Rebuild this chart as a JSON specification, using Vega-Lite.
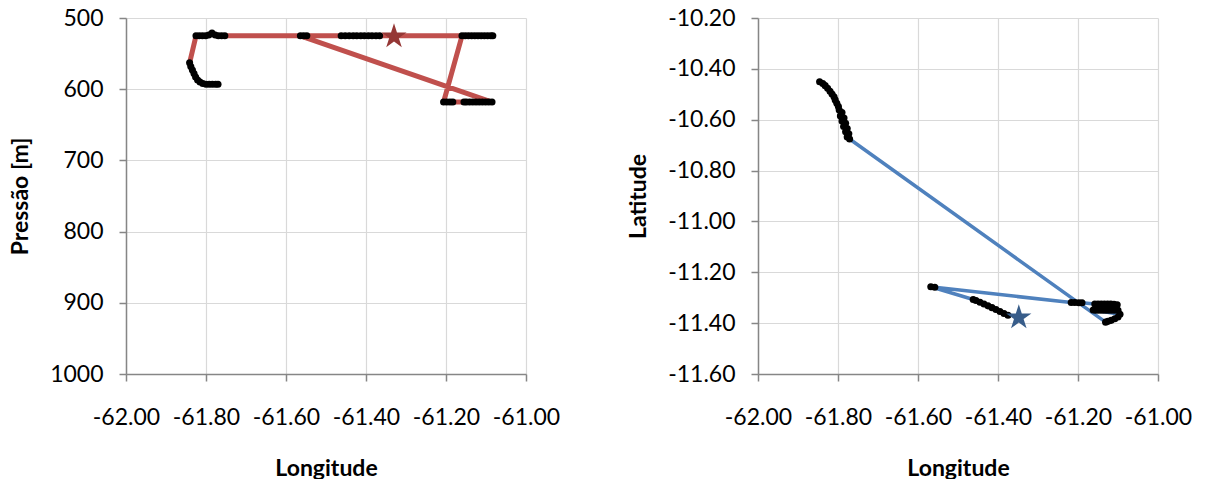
{
  "$schema": "https://vega.github.io/schema/vega-lite/v6.json",
  "padding": {"left": 9, "top": 7, "right": 5, "bottom": 2},
  "background": "white",
  "config": {
    "view": {"stroke": null},
    "font": "Lato",
    "axis": {"labelFont": "Lato", "labelFontSize": 23, "labelColor": "#000000", "labelOverlap": false, "labelFlush": false, "labelExpr": "replace(datum.label, '−', '-')", "titleFont": "Lato", "titleFontSize": 23, "titleFontWeight": "bold", "titleColor": "#000000", "domainColor": "#868686", "domainWidth": 1.5, "tickColor": "#868686", "tickSize": 7, "tickWidth": 1.5, "gridColor": "#D9D9D9", "gridWidth": 1.2},
    "axisX": {"labelPadding": 25, "titlePadding": 28},
    "axisY": {"labelPadding": 16, "titlePadding": 17},
    "concat": {"spacing": 67}
  },
  "datasets": {
    "pl": [
      {"o": 1, "lon": -61.366, "p": 525}, {"o": 2, "lon": -61.375, "p": 525}, {"o": 3, "lon": -61.385, "p": 525}, {"o": 4, "lon": -61.394, "p": 525}, {"o": 5, "lon": -61.404, "p": 525}, {"o": 6, "lon": -61.413, "p": 525}, {"o": 7, "lon": -61.423, "p": 525}, {"o": 8, "lon": -61.432, "p": 525}, {"o": 9, "lon": -61.442, "p": 525}, {"o": 10, "lon": -61.452, "p": 525}, {"o": 11, "lon": -61.462, "p": 525},
      {"o": 12, "lon": -61.548, "p": 525}, {"o": 13, "lon": -61.556, "p": 525}, {"o": 14, "lon": -61.564, "p": 525},
      {"o": 15, "lon": -61.085, "p": 618}, {"o": 16, "lon": -61.093, "p": 618}, {"o": 17, "lon": -61.101, "p": 618}, {"o": 18, "lon": -61.109, "p": 618}, {"o": 19, "lon": -61.117, "p": 618}, {"o": 20, "lon": -61.125, "p": 618}, {"o": 21, "lon": -61.133, "p": 618}, {"o": 22, "lon": -61.141, "p": 618}, {"o": 23, "lon": -61.149, "p": 618}, {"o": 24, "lon": -61.155, "p": 618},
      {"o": 25, "lon": -61.183, "p": 618}, {"o": 26, "lon": -61.19, "p": 618}, {"o": 27, "lon": -61.198, "p": 618}, {"o": 28, "lon": -61.206, "p": 618},
      {"o": 30, "lon": -61.16, "p": 525}, {"o": 31, "lon": -61.152, "p": 525}, {"o": 32, "lon": -61.144, "p": 525}, {"o": 33, "lon": -61.136, "p": 525}, {"o": 34, "lon": -61.128, "p": 525}, {"o": 35, "lon": -61.12, "p": 525}, {"o": 36, "lon": -61.112, "p": 525}, {"o": 37, "lon": -61.104, "p": 525}, {"o": 38, "lon": -61.096, "p": 525}, {"o": 39, "lon": -61.088, "p": 525}, {"o": 40, "lon": -61.083, "p": 525},
      {"o": 41, "lon": -61.753, "p": 525}, {"o": 42, "lon": -61.761, "p": 525}, {"o": 43, "lon": -61.769, "p": 525}, {"o": 44, "lon": -61.777, "p": 524}, {"o": 45, "lon": -61.785, "p": 521}, {"o": 46, "lon": -61.793, "p": 524}, {"o": 47, "lon": -61.801, "p": 525}, {"o": 48, "lon": -61.809, "p": 525}, {"o": 49, "lon": -61.817, "p": 525}, {"o": 50, "lon": -61.825, "p": 525},
      {"o": 51, "lon": -61.841, "p": 563}, {"o": 52, "lon": -61.838, "p": 568}, {"o": 53, "lon": -61.834, "p": 573}, {"o": 54, "lon": -61.83, "p": 578}, {"o": 55, "lon": -61.826, "p": 583}, {"o": 56, "lon": -61.821, "p": 587}, {"o": 57, "lon": -61.815, "p": 590}, {"o": 58, "lon": -61.808, "p": 592}, {"o": 59, "lon": -61.8, "p": 593}, {"o": 60, "lon": -61.792, "p": 593}, {"o": 61, "lon": -61.784, "p": 593}, {"o": 62, "lon": -61.776, "p": 593}, {"o": 63, "lon": -61.77, "p": 593}
    ],
    "pr": [
      {"o": 1, "lon": -61.375, "lat": -11.369}, {"o": 2, "lon": -61.385, "lat": -11.362}, {"o": 3, "lon": -61.395, "lat": -11.354}, {"o": 4, "lon": -61.405, "lat": -11.346}, {"o": 5, "lon": -61.415, "lat": -11.339}, {"o": 6, "lon": -61.425, "lat": -11.332}, {"o": 7, "lon": -61.435, "lat": -11.325}, {"o": 8, "lon": -61.445, "lat": -11.318}, {"o": 9, "lon": -61.455, "lat": -11.311}, {"o": 10, "lon": -61.462, "lat": -11.307},
      {"o": 11, "lon": -61.568, "lat": -11.257}, {"o": 12, "lon": -61.558, "lat": -11.259},
      {"o": 13, "lon": -61.217, "lat": -11.319}, {"o": 14, "lon": -61.208, "lat": -11.319}, {"o": 15, "lon": -61.198, "lat": -11.32}, {"o": 16, "lon": -61.19, "lat": -11.32},
      {"o": 17, "lon": -61.158, "lat": -11.325}, {"o": 18, "lon": -61.15, "lat": -11.325}, {"o": 19, "lon": -61.142, "lat": -11.325}, {"o": 20, "lon": -61.134, "lat": -11.325}, {"o": 21, "lon": -61.126, "lat": -11.325}, {"o": 22, "lon": -61.118, "lat": -11.325}, {"o": 23, "lon": -61.11, "lat": -11.326}, {"o": 24, "lon": -61.102, "lat": -11.328},
      {"o": 25, "lon": -61.1, "lat": -11.349}, {"o": 26, "lon": -61.108, "lat": -11.349}, {"o": 27, "lon": -61.116, "lat": -11.349}, {"o": 28, "lon": -61.124, "lat": -11.349}, {"o": 29, "lon": -61.132, "lat": -11.349}, {"o": 30, "lon": -61.14, "lat": -11.349}, {"o": 31, "lon": -61.148, "lat": -11.349}, {"o": 32, "lon": -61.156, "lat": -11.349}, {"o": 33, "lon": -61.162, "lat": -11.348},
      {"o": 34, "lon": -61.095, "lat": -11.365}, {"o": 35, "lon": -61.1, "lat": -11.376}, {"o": 36, "lon": -61.108, "lat": -11.383}, {"o": 37, "lon": -61.117, "lat": -11.389}, {"o": 38, "lon": -61.125, "lat": -11.393}, {"o": 39, "lon": -61.131, "lat": -11.396},
      {"o": 40, "lon": -61.771, "lat": -10.676}, {"o": 41, "lon": -61.777, "lat": -10.668}, {"o": 42, "lon": -61.773, "lat": -10.655}, {"o": 43, "lon": -61.781, "lat": -10.647}, {"o": 44, "lon": -61.777, "lat": -10.635}, {"o": 45, "lon": -61.786, "lat": -10.627}, {"o": 46, "lon": -61.781, "lat": -10.614}, {"o": 47, "lon": -61.79, "lat": -10.605}, {"o": 48, "lon": -61.785, "lat": -10.593}, {"o": 49, "lon": -61.794, "lat": -10.585}, {"o": 50, "lon": -61.79, "lat": -10.572}, {"o": 51, "lon": -61.797, "lat": -10.562}, {"o": 52, "lon": -61.799, "lat": -10.548}, {"o": 53, "lon": -61.803, "lat": -10.535}, {"o": 54, "lon": -61.807, "lat": -10.522}, {"o": 55, "lon": -61.81, "lat": -10.51}, {"o": 56, "lon": -61.815, "lat": -10.499}, {"o": 57, "lon": -61.82, "lat": -10.488}, {"o": 58, "lon": -61.826, "lat": -10.476}, {"o": 59, "lon": -61.832, "lat": -10.466}, {"o": 60, "lon": -61.838, "lat": -10.458}, {"o": 61, "lon": -61.846, "lat": -10.451}
    ],
    "sl": [{"lon": -61.33, "p": 526}],
    "sr": [{"lon": -61.348, "lat": -11.378}]
  },
  "hconcat": [
    {
      "width": 400,
      "height": 356,
      "encoding": {
        "x": {"field": "lon", "type": "quantitative", "scale": {"domain": [-62, -61], "nice": false, "zero": false}, "axis": {"values": [-62, -61.8, -61.6, -61.4, -61.2, -61], "format": ".2f", "title": "Longitude"}},
        "y": {"field": "p", "type": "quantitative", "scale": {"domain": [500, 1000], "reverse": true, "nice": false, "zero": false}, "axis": {"values": [500, 600, 700, 800, 900, 1000], "format": "d", "title": "Pressão [m]"}}
      },
      "layer": [
        {"data": {"name": "pl"}, "mark": {"type": "line", "color": "#C0504D", "strokeWidth": 5, "strokeJoin": "round"}, "encoding": {"order": {"field": "o", "type": "quantitative"}}},
        {"data": {"name": "pl"}, "mark": {"type": "circle", "color": "#000000", "size": 50, "opacity": 1}},
        {"data": {"name": "sl"}, "mark": {"type": "point", "shape": "M0,-1L0.2245,-0.309L0.9511,-0.309L0.3633,0.118L0.5878,0.809L0,0.382L-0.5878,0.809L-0.3633,0.118L-0.9511,-0.309L-0.2245,-0.309Z", "filled": true, "color": "#953735", "size": 700, "opacity": 1}}
      ]
    },
    {
      "width": 400,
      "height": 356,
      "encoding": {
        "x": {"field": "lon", "type": "quantitative", "scale": {"domain": [-62, -61], "nice": false, "zero": false}, "axis": {"values": [-62, -61.8, -61.6, -61.4, -61.2, -61], "format": ".2f", "title": "Longitude"}},
        "y": {"field": "lat", "type": "quantitative", "scale": {"domain": [-11.6, -10.2], "nice": false, "zero": false}, "axis": {"values": [-11.6, -11.4, -11.2, -11, -10.8, -10.6, -10.4, -10.2], "format": ".2f", "title": "Latitude"}}
      },
      "layer": [
        {"data": {"name": "pr"}, "mark": {"type": "line", "color": "#4F81BD", "strokeWidth": 3.5, "strokeJoin": "round"}, "encoding": {"order": {"field": "o", "type": "quantitative"}}},
        {"data": {"name": "pr"}, "mark": {"type": "circle", "color": "#000000", "size": 50, "opacity": 1}},
        {"data": {"name": "sr"}, "mark": {"type": "point", "shape": "M0,-1L0.2245,-0.309L0.9511,-0.309L0.3633,0.118L0.5878,0.809L0,0.382L-0.5878,0.809L-0.3633,0.118L-0.9511,-0.309L-0.2245,-0.309Z", "filled": true, "color": "#385D8A", "size": 700, "opacity": 1}}
      ]
    }
  ]
}
